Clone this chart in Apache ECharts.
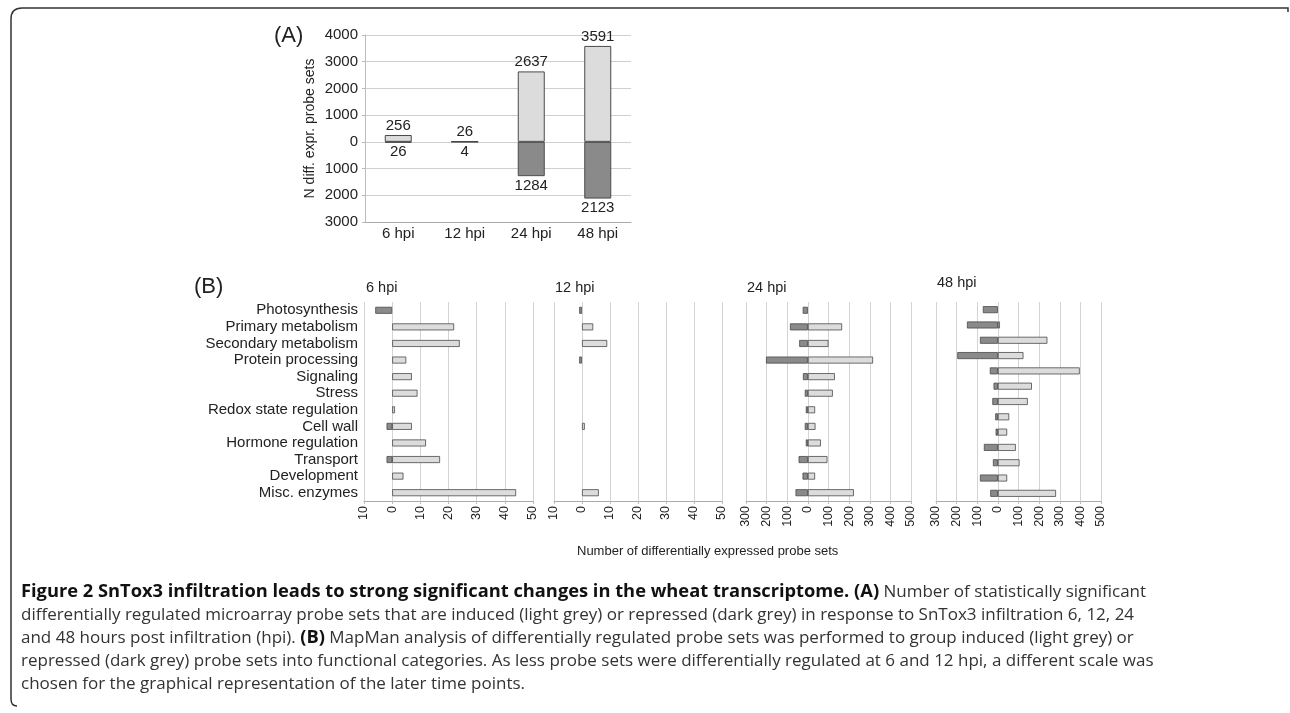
<!DOCTYPE html>
<html>
<head>
<meta charset="utf-8">
<script src="https://cdn.jsdelivr.net/npm/echarts@6/dist/echarts.min.js"></script>
<style>
html,body{margin:0;padding:0;background:#fff;}
#c{width:1290px;height:713px;}
</style>
</head>
<body>
<div id="c"></div>
<script>
// ---- Panel A data ----
const timepoints = ['6 hpi', '12 hpi', '24 hpi', '48 hpi'];
const inducedA = [256, 26, 2637, 3591];
const repressedA = [-26, -4, -1284, -2123];

// ---- Panel B data ----
const categories = ['Photosynthesis', 'Primary metabolism', 'Secondary metabolism', 'Protein processing',
  'Signaling', 'Stress', 'Redox state regulation', 'Cell wall', 'Hormone regulation', 'Transport',
  'Development', 'Misc. enzymes'];
const induced6 = [0, 22, 24, 5, 7, 9, 1, 7, 12, 17, 4, 44];
const repressed6 = [-6, 0, 0, 0, 0, 0, 0, -2, 0, -2, 0, 0];
const induced12 = [0, 4, 9, 0, 0, 0, 0, 1, 0, 0, 0, 6];
const repressed12 = [-1, 0, 0, -1, 0, 0, 0, 0, 0, 0, 0, 0];
const induced24 = [0, 166, 100, 316, 131, 121, 35, 37, 63, 95, 35, 223];
const repressed24 = [-25, -87, -42, -203, -24, -15, -10, -15, -10, -45, -26, -60];
// the 48 hpi panel shows 13 bar rows in the same height
const categories48 = ['Photosynthesis', 'Primary metabolism', 'Secondary metabolism', 'Protein processing',
  'Signaling', 'Stress', 'Redox state regulation', 'Cell wall', 'Hormone regulation', 'Transport',
  'Development', '', 'Misc. enzymes'];
const induced48 = [0, 10, 240, 124, 397, 165, 145, 55, 45, 87, 105, 45, 282];
const repressed48 = [-73, -150, -87, -197, -39, -21, -27, -13, -11, -68, -24, -87, -37];

const panelTitles = ['6 hpi', '12 hpi', '24 hpi', '48 hpi'];
const panelRanges = [[-10, 50, 10], [-10, 50, 10], [-300, 500, 100], [-300, 500, 100]];

const LIGHT = '#dcdcdc', DARK = '#8a8a8a', EDGE = '#4a4a4a';
const FONT = 'Liberation Sans';
const abs = v => String(Math.abs(v));
const nz = arr => arr.map(v => (v === 0 ? '-' : v));

const chart = echarts.init(document.getElementById('c'), null, {renderer: 'canvas'});

const grids = [
  {left: 365, top: 35, width: 266, height: 187},
  {left: 364, top: 302, width: 169, height: 199},
  {left: 554, top: 302, width: 168, height: 199},
  {left: 746, top: 302, width: 165, height: 199},
  {left: 936, top: 302, width: 165, height: 199}
];

const xAxes = [{
  type: 'category', gridIndex: 0, data: timepoints,
  axisLine: {onZero: false, lineStyle: {color: '#aaa'}},
  axisTick: {show: false},
  axisLabel: {fontFamily: FONT, fontSize: 15, color: '#222', margin: 4}
}];
const yAxes = [{
  type: 'value', gridIndex: 0, min: -3000, max: 4000, interval: 1000,
  axisLine: {show: true, lineStyle: {color: '#bbb'}},
  axisTick: {show: true, length: 3, lineStyle: {color: '#bbb'}},
  axisLabel: {fontFamily: FONT, fontSize: 15, color: '#222', margin: 7, formatter: abs},
  splitLine: {lineStyle: {color: '#cfcfcf'}},
  name: 'N diff. expr. probe sets', nameLocation: 'middle', nameGap: 48,
  nameTextStyle: {fontFamily: FONT, fontSize: 14, color: '#222'}
}];

const bData = [
  [categories, induced6, repressed6],
  [categories, induced12, repressed12],
  [categories, induced24, repressed24],
  [categories48, induced48, repressed48]
];

const series = [
  {type: 'bar', xAxisIndex: 0, yAxisIndex: 0, data: inducedA, barWidth: 27, barGap: '-100%',
    itemStyle: {color: LIGHT, borderColor: EDGE, borderWidth: 1},
    label: {show: true, position: 'top', distance: 2, fontFamily: FONT, fontSize: 15, color: '#222'}},
  {type: 'bar', xAxisIndex: 0, yAxisIndex: 0, data: repressedA, barWidth: 27, barGap: '-100%',
    itemStyle: {color: DARK, borderColor: EDGE, borderWidth: 1},
    label: {show: true, position: 'bottom', distance: 2, fontFamily: FONT, fontSize: 15, color: '#222', formatter: p => abs(p.value)}}
];

const titles = [
  {text: '(A)', left: 274, top: 25, padding: 0, textStyle: {fontFamily: FONT, fontSize: 22, fontWeight: 'normal', color: '#222'}},
  {text: '(B)', left: 194, top: 276, padding: 0, textStyle: {fontFamily: FONT, fontSize: 22, fontWeight: 'normal', color: '#222'}}
];
const titlePos = [[366, 280], [555, 280], [747, 280], [937, 275]];

bData.forEach((d, i) => {
  const gi = i + 1;
  const r = panelRanges[i];
  xAxes.push({
    type: 'value', gridIndex: gi, min: r[0], max: r[1], interval: r[2],
    axisLine: {show: true, onZero: false, lineStyle: {color: '#aaa'}},
    axisTick: {show: true, length: 3, lineStyle: {color: '#bbb'}},
    axisLabel: {rotate: 90, fontFamily: FONT, fontSize: 12.5, color: '#222', margin: 5, formatter: abs},
    splitLine: {lineStyle: {color: '#d4d4d4'}}
  });
  yAxes.push({
    type: 'category', gridIndex: gi, data: d[0], inverse: true,
    axisLine: {show: false}, axisTick: {show: false},
    axisLabel: {show: i === 0, interval: 0, fontFamily: FONT, fontSize: 15, color: '#222', margin: 6}
  });
  series.push({type: 'bar', xAxisIndex: gi, yAxisIndex: gi, data: nz(d[1]), barWidth: 7, barGap: '-100%',
    itemStyle: {color: LIGHT, borderColor: EDGE, borderWidth: 0.8}});
  series.push({type: 'bar', xAxisIndex: gi, yAxisIndex: gi, data: nz(d[2]), barWidth: 7, barGap: '-100%',
    itemStyle: {color: DARK, borderColor: EDGE, borderWidth: 0.8}});
  titles.push({text: panelTitles[i], left: titlePos[i][0], top: titlePos[i][1], padding: 0,
    textStyle: {fontFamily: FONT, fontSize: 14.5, fontWeight: 'normal', color: '#222'}});
});

const CAP_FONT = 'Open Sans';
const capLines = [
  '{b|Figure 2 SnTox3 infiltration leads to strong significant changes in the wheat transcriptome. (A)} Number of statistically significant',
  'differentially regulated microarray probe sets that are induced (light grey) or repressed (dark grey) in response to SnTox3 infiltration 6, 12, 24',
  'and 48 hours post infiltration (hpi). {b|(B)} MapMan analysis of differentially regulated probe sets was performed to group induced (light grey) or',
  'repressed (dark grey) probe sets into functional categories. As less probe sets were differentially regulated at 6 and 12 hpi, a different scale was',
  'chosen for the graphical representation of the later time points.'
];

const frameStyle = {stroke: '#333', lineWidth: 1.5, fill: null};
const graphics = [
  {type: 'polyline', shape: {points: [[1288, 12], [1288, 8], [22, 8]]}, style: frameStyle},
  {type: 'bezierCurve', shape: {x1: 22, y1: 8, x2: 11, y2: 19, cpx1: 11, cpy1: 8}, style: frameStyle},
  {type: 'line', shape: {x1: 11, y1: 19, x2: 11, y2: 699}, style: frameStyle},
  {type: 'bezierCurve', shape: {x1: 11, y1: 699, x2: 17, y2: 706, cpx1: 11, cpy1: 706}, style: frameStyle},
  {type: 'text', left: 577, top: 545, style: {text: 'Number of differentially expressed probe sets',
    font: '13px "Liberation Sans"', fill: '#222'}}
];
capLines.forEach((t, i) => {
  graphics.push({type: 'text', left: 21, top: 581 + i * 23, style: {
    text: t, fontFamily: CAP_FONT, fontSize: 17, lineHeight: 22, fill: '#333',
    rich: {b: {fontFamily: CAP_FONT, fontSize: 18.3, lineHeight: 22, fontWeight: 'bold', fill: '#111'}}
  }});
});

chart.setOption({
  animation: false,
  backgroundColor: '#fff',
  title: titles,
  grid: grids,
  xAxis: xAxes,
  yAxis: yAxes,
  series: series,
  graphic: graphics
});
</script>
</body>
</html>
